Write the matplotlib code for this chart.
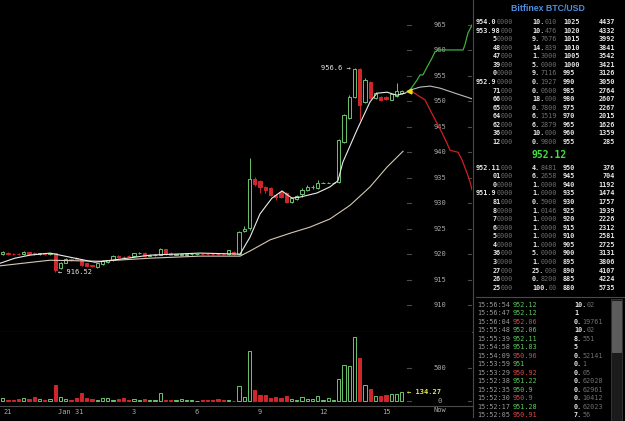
import numpy as np
import matplotlib
matplotlib.use('Agg')
import matplotlib.pyplot as plt
import matplotlib.transforms as mtrans
from matplotlib.patches import Rectangle

plt.rcParams['font.family'] = ['DejaVu Sans Mono']

# ---- candles: 15 minute bars, x = hours after 21:00 (Jan 30) ----
candle_hours = np.arange(-0.25, 19.0, 0.25)
opens = [920.0, 920.3, 920.1, 920.1, 920.0, 920.4, 920.3, 920.0, 920.2, 920.0,
         920.2, 917.2, 918.3, 919.0, 919.2, 918.9, 918.2, 917.8, 917.4, 918.0,
         918.4, 918.8, 919.6, 919.5, 919.7, 919.6, 920.2, 920.3, 919.7, 919.8,
         919.9, 921.0, 920.3, 919.9, 919.9, 919.9, 920.0, 920.0, 920.1, 920.1,
         920.1, 920.1, 920.1, 920.0, 920.5, 920.0, 924.5, 925.1, 934.7, 934.3,
         933.2, 933.0, 931.6, 932.2, 932.0, 930.3, 930.8, 931.8, 932.6, 933.1,
         933.0, 934.0, 934.0, 934.0, 934.2, 942.0, 946.7, 950.9, 956.4, 949.9,
         953.8, 950.6, 950.8, 950.8, 950.3, 951.0, 951.6]
highs = [920.6, 920.4, 920.3, 920.2, 920.6, 920.5, 920.4, 920.3, 920.3, 920.3,
         920.3, 918.5, 919.2, 919.3, 919.4, 919.0, 918.3, 917.9, 918.3, 918.8,
         918.9, 919.9, 919.8, 919.7, 919.9, 920.3, 920.5, 920.4, 919.9, 920.0,
         921.2, 921.1, 920.4, 920.1, 920.1, 920.1, 920.1, 920.1, 920.2, 920.2,
         920.2, 920.2, 920.2, 920.9, 920.6, 924.5, 925.5, 938.9, 935.2, 934.5,
         933.4, 933.2, 931.8, 932.6, 932.2, 931.2, 931.6, 932.9, 933.6, 933.6,
         934.6, 934.1, 934.1, 934.1, 942.6, 947.5, 951.2, 956.6, 956.6, 954.5,
         954.0, 951.8, 951.0, 951.0, 951.7, 953.6, 952.3]
lows = [919.9, 919.9, 919.9, 919.9, 919.9, 919.9, 919.9, 919.9, 919.9, 919.9,
        916.52, 917.0, 918.2, 918.7, 918.8, 917.7, 917.4, 917.4, 917.2, 917.9,
        918.2, 918.7, 919.2, 919.2, 919.5, 919.5, 920.0, 919.5, 919.6, 919.7,
        919.8, 919.8, 919.8, 919.8, 919.6, 919.6, 919.8, 919.9, 919.9, 919.9,
        919.9, 919.9, 919.9, 919.9, 919.9, 919.8, 924.3, 924.8, 933.3, 932.0,
        932.0, 931.4, 930.6, 931.0, 930.0, 930.1, 930.6, 931.2, 932.3, 932.8,
        932.8, 933.9, 933.9, 933.9, 934.0, 941.8, 946.5, 950.7, 946.4, 949.6,
        950.4, 950.4, 950.1, 950.3, 950.2, 950.9, 951.4]
closes = [920.4, 920.0, 920.0, 920.0, 920.4, 920.1, 920.0, 920.2, 920.0, 920.2,
          916.8, 918.3, 919.0, 918.9, 919.0, 917.9, 917.6, 917.6, 918.2, 918.6,
          918.8, 919.7, 919.4, 919.4, 919.6, 920.2, 920.3, 919.7, 919.8, 919.9,
          921.0, 920.0, 919.9, 920.0, 920.0, 920.0, 920.05, 920.0, 920.0, 920.0,
          920.0, 920.0, 920.0, 920.8, 920.0, 924.3, 925.0, 934.7, 933.7, 933.2,
          932.6, 931.6, 931.2, 931.2, 930.2, 931.0, 931.4, 932.6, 933.2, 933.2,
          934.0, 934.0, 934.0, 934.0, 942.4, 947.3, 950.9, 956.4, 949.3, 954.2,
          950.6, 951.6, 950.3, 950.4, 951.5, 952.0, 952.12]
volumes = [50, 15, 15, 25, 40, 25, 55, 25, 15, 30,
           242, 55, 30, 15, 45, 126, 45, 35, 15, 45,
           45, 15, 30, 40, 15, 30, 10, 30, 15, 15,
           126, 10, 10, 10, 30, 15, 10, 5, 10, 15,
           15, 30, 15, 10, 5, 227, 55, 758, 167, 91,
           91, 45, 60, 50, 76, 25, 15, 55, 35, 35,
           70, 15, 40, 10, 328, 545, 530, 965, 646, 237,
           182, 81, 76, 96, 101, 101, 134.27]

# moving averages
fast_ma_h = [-0.38, 0.33, 1.05, 2.0, 2.95, 4.14, 5.33, 6.76, 9.14, 11.05, 11.52, 12.0,
             12.57, 13.05, 13.52, 13.9, 14.71, 15.33, 15.71, 15.95, 16.62, 17.24,
             17.57, 18.05, 18.52, 18.9]
fast_ma = [918.2, 919.2, 919.8, 920.2, 919.4, 918.4, 919.0, 919.8, 920.2, 920.0, 923.3, 927.9,
           931.0, 932.4, 931.0, 931.2, 932.0, 933.2, 934.4, 938.1, 944.4, 949.9,
           951.6, 951.8, 951.2, 951.6]
slow_ma_h = [-0.38, 2.0, 4.38, 6.76, 9.14, 11.05, 11.52, 12.48, 13.43, 14.38, 15.33,
             16.29, 17.24, 18.05, 18.81]
slow_ma = [917.7, 918.8, 918.6, 919.2, 919.6, 919.6, 920.6, 922.8, 924.1, 925.3, 926.9,
           929.6, 933.2, 937.1, 940.2]

# order book projection on the right of the candles
ask_line_h = [19.14, 19.48, 19.62, 19.76, 19.95, 20.19, 20.33, 20.48, 21.67, 21.76, 21.90, 22.10]
ask_line_p = [952.2, 954.2, 955.2, 955.2, 956.7, 958.5, 959.7, 960.1, 960.1, 961.1, 963.4, 965.0]
bid_line_h = [19.14, 19.62, 19.86, 20.10, 20.43, 20.67, 20.90, 21.05, 21.43, 21.62, 21.86, 22.0, 22.1]
bid_line_p = [952.2, 950.9, 950.3, 948.3, 945.7, 943.8, 941.8, 940.4, 940.0, 938.5, 935.9, 934.2, 932.6]
mid_line_h = [18.9, 19.14, 19.62, 20.1, 20.57, 21.29, 22.1]
mid_line_p = [951.6, 952.2, 952.8, 953.0, 952.6, 951.6, 950.5]

price_ticks = [965, 960, 955, 950, 945, 940, 935, 930, 925, 920, 915, 910]
vol_ticks = [500, 0]
time_ticks = [0, 3, 6, 9, 12, 15, 18]
time_labels = ['21', 'Jan 31', '3', '6', '9', '12', '15']
last_price = 952.12

# ---- order book / trades ----
ask_price = ['954.00000', '953.98000', '50000', '48000', '47000', '39000', '00000', '952.90000',
             '71000', '66000', '65000', '64000', '62000', '36000', '12000']
ask_amount = ['10.010', '10.476', '9.7676', '14.839', '1.3000', '5.0000', '9.7116', '0.1927',
              '0.0600', '18.000', '0.7800', '6.1519', '6.2879', '10.000', '0.9800']
ask_level = [1025, 1020, 1015, 1010, 1005, 1000, 995, 990, 985, 980, 975, 970, 965, 960, 955]
ask_total = [4437, 4332, 3992, 3841, 3542, 3421, 3126, 3050, 2764, 2607, 2267, 2015, 1626, 1359, 285]
bid_price = ['952.11000', '01000', '00000', '951.90000', '81000', '80000', '70000', '60000',
             '50000', '40000', '36000', '30000', '27000', '26000', '25000']
bid_amount = ['4.8481', '6.2658', '1.0000', '1.0000', '0.5900', '1.0146', '1.0000', '1.0000',
              '1.0000', '1.0000', '5.0000', '1.0000', '25.000', '0.8200', '100.00']
bid_level = [950, 945, 940, 935, 930, 925, 920, 915, 910, 905, 900, 895, 890, 885, 880]
bid_total = [376, 704, 1192, 1474, 1757, 1939, 2226, 2312, 2581, 2725, 3131, 3806, 4107, 4224, 5735]

trade_time = ['15:56:54', '15:56:47', '15:56:04', '15:55:48', '15:55:39', '15:54:58', '15:54:09',
              '15:53:59', '15:53:29', '15:52:38', '15:52:35', '15:52:30', '15:52:17', '15:52:05']
trade_price = ['952.12', '952.12', '952.06', '952.06', '952.11', '951.83', '950.96',
               '951', '950.92', '951.22', '950.9', '950.9', '951.28', '950.91']
trade_buy = [1, 1, 0, 1, 1, 1, 0, 1, 0, 1, 1, 0, 1, 0]
trade_amount = ['10.02', '1', '0.19761', '10.02', '8.551', '5', '0.52141', '0.1', '0.05',
                '0.62028', '0.62961', '0.10412', '0.62023', '7.56']

GREEN = '#6cc46c'
RED = '#d0262b'
GRID = '#4a4a4a'
LABEL = '#a8a8a8'
BRIGHT = '#e6e6e6'
DIM = '#707070'

W, H = 625, 421
fig = plt.figure(figsize=(6.25, 4.21), dpi=100, facecolor='black')


def box(x0, y0, x1, y1):  # pixel box -> figure fraction
    return [x0 / W, 1 - y1 / H, (x1 - x0) / W, (y1 - y0) / H]


ax = fig.add_axes(box(0, 0, 472, 331.7), facecolor='black')
vax = fig.add_axes(box(0, 331.7, 472, 406), facecolor='black')
xmin, xmax = -8 / 21, 464 / 21
for a in (ax, vax):
    a.set_xlim(xmin, xmax)
    for s in a.spines.values():
        s.set_visible(False)
    a.spines['bottom'].set_visible(True)
    a.spines['bottom'].set_color(GRID)
    a.spines['bottom'].set_linewidth(0.8)
ax.set_ylim(904.76, 969.91)
vax.set_ylim(-76, 1050)
ax.set_xticks([])
ax.set_yticks([])
vax.set_yticks([])

o = np.array(opens)
c = np.array(closes)
up = c >= o
edge = np.where(up, GREEN, RED)
fill = np.where(up, 'black', RED)
w = 0.16
ax.vlines(candle_hours, lows, highs, colors=edge, lw=0.7, zorder=2)
ax.bar(candle_hours, np.abs(c - o), bottom=np.minimum(o, c), width=w, color=fill,
       edgecolor=edge, linewidth=0.7, zorder=3)

ax.plot(slow_ma_h, slow_ma, color='#d6c8b2', lw=0.8, zorder=4)
ax.plot(fast_ma_h, fast_ma, color='#ececec', lw=0.8, zorder=4)
ax.plot(ask_line_h, ask_line_p, color='#3fae3f', lw=0.9, zorder=4)
ax.plot(bid_line_h, bid_line_p, color='#d02020', lw=0.9, zorder=4)
ax.plot(mid_line_h, mid_line_p, color='#bdbdbd', lw=0.8, zorder=4)
ax.plot(candle_hours[-1] + 0.36, last_price, marker='<', ms=3.5, color='#e8e020',
        mec='#e8e020', zorder=5)

vax.bar(candle_hours, volumes, width=w, color=fill, edgecolor=edge, linewidth=0.7)

# price scale inside the chart
bt = mtrans.blended_transform_factory(ax.transAxes, ax.transData)
for p in price_ticks:
    ax.text(440 / 472, p, str(p), transform=bt, ha='center', va='center',
            fontsize=5, color=LABEL, zorder=3)
    ax.plot([407 / 472, 411 / 472], [p, p], transform=bt, color=GRID, lw=0.8)
    ax.plot([468 / 472, 1.0], [p, p], transform=bt, color=GRID, lw=0.8)
vbt = mtrans.blended_transform_factory(vax.transAxes, vax.transData)
for v in vol_ticks:
    vax.text(440 / 472, v, str(v), transform=vbt, ha='center', va='center',
             fontsize=5, color=LABEL)
    vax.plot([407 / 472, 411 / 472], [v, v], transform=vbt, color=GRID, lw=0.8)
    vax.plot([468 / 472, 1.0], [v, v], transform=vbt, color=GRID, lw=0.8)

vax.set_xticks(time_ticks)
vax.set_xticklabels(time_labels)
vax.tick_params(axis='x', length=0, labelsize=5, colors=LABEL, pad=2.5)
vax.text(440 / 472, -0.02, 'Now', transform=vax.transAxes, ha='center', va='top',
         fontsize=5, color=LABEL)

# annotations
k_hi = int(np.argmax(highs))
k_lo = int(np.argmin(lows))
ax.annotate(f'{highs[k_hi]} \u2192', (candle_hours[k_hi], highs[k_hi]), xytext=(-2.5, 0),
            textcoords='offset points', ha='right', va='center', fontsize=5, color=BRIGHT)
ax.annotate(f'\u2190 {lows[k_lo]}', (candle_hours[k_lo], lows[k_lo]), xytext=(2, 0),
            textcoords='offset points', ha='left', va='center', fontsize=5, color=BRIGHT)
vax.annotate(f'\u2190 {volumes[-1]}', (candle_hours[-1], volumes[-1]), xytext=(3.5, 0),
             textcoords='offset points', ha='left', va='center', fontsize=5,
             color='#e8e84a', fontweight='bold')

# ---- right panel in pixel coordinates ----
px = fig.add_axes([0, 0, 1, 1], facecolor='none')
px.set_xlim(0, W)
px.set_ylim(H, 0)
px.axis('off')
px.plot([472.5, 472.5], [0, H], color=GRID, lw=0.8)
px.plot([476, W], [297, 297], color=GRID, lw=0.8)

FS = 4.9
cw = 0.602 * FS * 100 / 72


def split_price(s):
    b = s.rstrip('0')
    if b == '' or b.endswith('.'):
        b = s[:len(b) + 1]
    return b, s[len(b):]


def split_amount(s):
    if '.' in s:
        i = s.index('.') + 1
        return s[:i], s[i:]
    return s, ''


def two_tone(x, y, parts, align='left', weight='normal'):
    b, d = parts
    if align == 'right':
        px.text(x, y, d, ha='right', va='center', fontsize=FS, color=DIM)
        px.text(x - len(d) * cw, y, b, ha='right', va='center', fontsize=FS,
                color=BRIGHT, fontweight=weight)
    else:
        px.text(x, y, b, ha='left', va='center', fontsize=FS, color=BRIGHT, fontweight=weight)
        px.text(x + len(b) * cw, y, d, ha='left', va='center', fontsize=FS, color=DIM)


px.text(548, 8.5, 'Bitfinex BTC/USD', ha='center', va='center', fontsize=6.3,
        fontweight='bold', color='#4f90e0', family='Liberation Sans')


def book_rows(y0, step, prices, amounts, levels, totals):
    for i in range(len(prices)):
        y = y0 + i * step
        two_tone(513, y, split_price(prices[i]), 'right', 'bold')
        two_tone(532, y, split_amount(amounts[i]), 'left', 'bold')
        px.text(563, y, str(levels[i]), ha='left', va='center', fontsize=FS,
                color=BRIGHT, fontweight='bold')
        px.text(615, y, str(totals[i]), ha='right', va='center', fontsize=FS,
                color=BRIGHT, fontweight='bold')


book_rows(22.3, 8.53, ask_price, ask_amount, ask_level, ask_total)
px.text(549, 155, f'{last_price:.2f}', ha='center', va='center', fontsize=7,
        fontweight='bold', color='#3fe03f')
book_rows(167.7, 8.57, bid_price, bid_amount, bid_level, bid_total)

for i in range(len(trade_time)):
    y = 305 + i * 8.47
    px.text(477, y, trade_time[i], ha='left', va='center', fontsize=FS, color='#9a9a9a')
    px.text(513, y, trade_price[i], ha='left', va='center', fontsize=FS,
            color='#5cc85c' if trade_buy[i] else '#d84a4a')
    two_tone(574, y, split_amount(trade_amount[i]), 'left', 'bold')
px.add_patch(Rectangle((473, 418), 138, 4, facecolor='black', edgecolor='none', zorder=5))

# scrollbar
px.add_patch(Rectangle((611, 299), 10.5, 122, facecolor='#1b1b1b', edgecolor='#3a3a3a', lw=0.6))
px.add_patch(Rectangle((612, 301), 8.5, 51, facecolor='#5c5c5c', edgecolor='#6a6a6a', lw=0.5))

fig.savefig('out.png', dpi=100, facecolor='black')
